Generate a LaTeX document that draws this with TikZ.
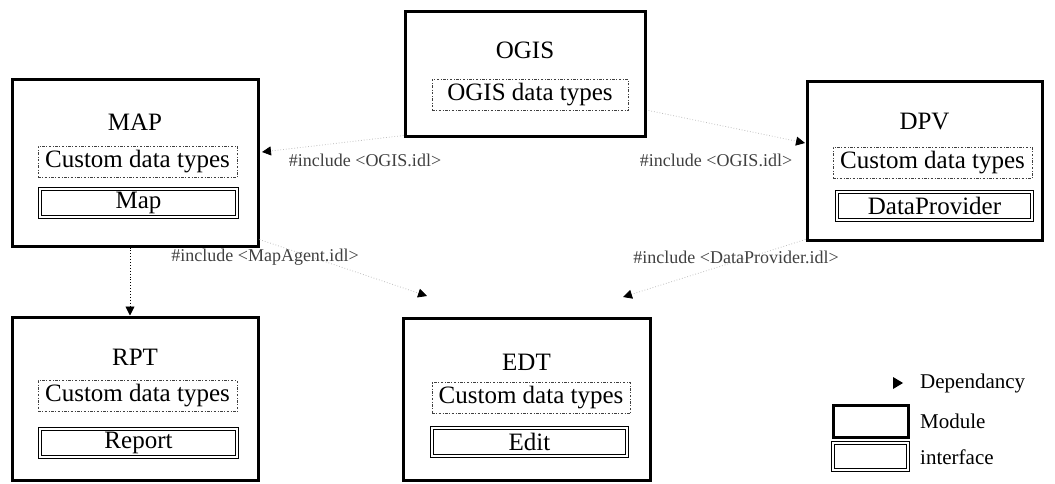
\documentclass[tikz,border=0pt]{standalone}
\usepackage{fontspec}
\setmainfont{Liberation Serif}
\usetikzlibrary{arrows.meta}

\tikzset{
  module/.style={draw, line width=3pt, inner sep=0pt},
  title/.style={inner sep=0pt, font=\fontsize{25}{28}\selectfont},
  dtypes/.style={draw=black!75, line width=0.7pt,
    dash pattern=on 2.5pt off 1.6pt on 0.8pt off 1.6pt,
    inner sep=0pt, minimum height=31pt, font=\fontsize{25}{28}\selectfont},
  iface/.style={draw, double, double distance=1.8pt, line width=0.9pt,
    inner sep=0pt, minimum height=28pt, font=\fontsize{25}{28}\selectfont},
  inc/.style={inner sep=0pt, text=black!75, font=\fontsize{18}{22}\selectfont},
  legtext/.style={inner sep=0pt, anchor=west, font=\fontsize{21}{24}\selectfont},
  dep/.style={draw=black!25, dotted, line width=0.8pt,
    -{Triangle[length=9pt, width=9pt, color=black]}},
  depvis/.style={draw=black, dotted, line width=0.9pt,
    -{Triangle[length=9pt, width=9pt, color=black]}},
}

\begin{document}
\begin{tikzpicture}[x=1pt, y=-1pt]
\useasboundingbox (0,0) rectangle (1055,484);

% ---- MAP module
\node[module, minimum width=246pt, minimum height=166pt] (map) at (135,163) {};
\node[title] (maplabel) at (135,122) {MAP};
\node[dtypes, minimum width=199pt] (maptypes) at (137.5,161.5) {Custom data types};
\node[iface, minimum width=197pt] (mapiface) at (138.5,203) {Map};

% ---- OGIS module
\node[module, minimum width=240pt, minimum height=125pt] (ogis) at (525,74.5) {};
\node[title] (ogislabel) at (525,50) {OGIS};
\node[dtypes, minimum width=196pt] (ogistypes) at (530,95) {OGIS data types};

% ---- DPV module
\node[module, minimum width=235pt, minimum height=158pt] (dpv) at (924.5,161) {};
\node[title] (dpvlabel) at (924.5,122) {DPV};
\node[dtypes, minimum width=199pt] (dpvtypes) at (932.5,162.5) {Custom data types};
\node[iface, minimum width=195pt] (dpviface) at (934.5,206) {DataProvider};

% ---- RPT module
\node[module, minimum width=246pt, minimum height=163pt] (rpt) at (135,398.5) {};
\node[title] (rptlabel) at (135,357) {RPT};
\node[dtypes, minimum width=199pt] (rpttypes) at (137.5,396) {Custom data types};
\node[iface, minimum width=197pt] (rptiface) at (138.5,443) {Report};

% ---- EDT module
\node[module, minimum width=247pt, minimum height=162pt] (edt) at (526.5,399) {};
\node[title] (edtlabel) at (526.5,362) {EDT};
\node[dtypes, minimum width=198pt] (edttypes) at (531,398) {Custom data types};
\node[iface, minimum width=195pt] (edtiface) at (529.5,442) {Edit};

% ---- arrow ends short of the target boxes
\coordinate (mapin) at (262,152);
\coordinate (dpvin) at (805,143);
\coordinate (edtinl) at (427,296);
\coordinate (edtinr) at (623,297);

% ---- dependencies
\draw[dep] (ogis.south west) ++(0,-3) -- (mapin);
\draw[dep] (ogis.east) ++(2,36) -- (dpvin);
\draw[depvis] (map.south -| 130,0) -- (rpt.north -| 130,0);
\draw[dep] (map.south east) ++(0,-8) -- (edtinl);
\draw[dep] (dpv.south west) ++(0,-2) -- (edtinr);

% ---- include labels
\node[inc] (incogisl) at (365,160) {\#include <OGIS.idl>};
\node[inc] (incogisr) at (716,160) {\#include <OGIS.idl>};
\node[inc] (incmapag) at (265,257) {\#include <MapAgent.idl>};
\node[inc] (incdprov) at (736,257) {\#include <DataProvider.idl>};

% ---- legend
\fill (893,377) -- (903,383) -- (893,389) -- cycle;
\node[legtext] (legdep) at (920,383) {Dependancy};
\node[module, minimum width=75pt, minimum height=32pt] (legmod) at (870.5,421) {};
\node[legtext] (legmodt) at (920,421) {Module};
\node[iface, minimum width=75pt, minimum height=27pt] (legif) at (870.5,456.5) {};
\node[legtext] (legift) at (920,457) {interface};
\end{tikzpicture}
\end{document}
